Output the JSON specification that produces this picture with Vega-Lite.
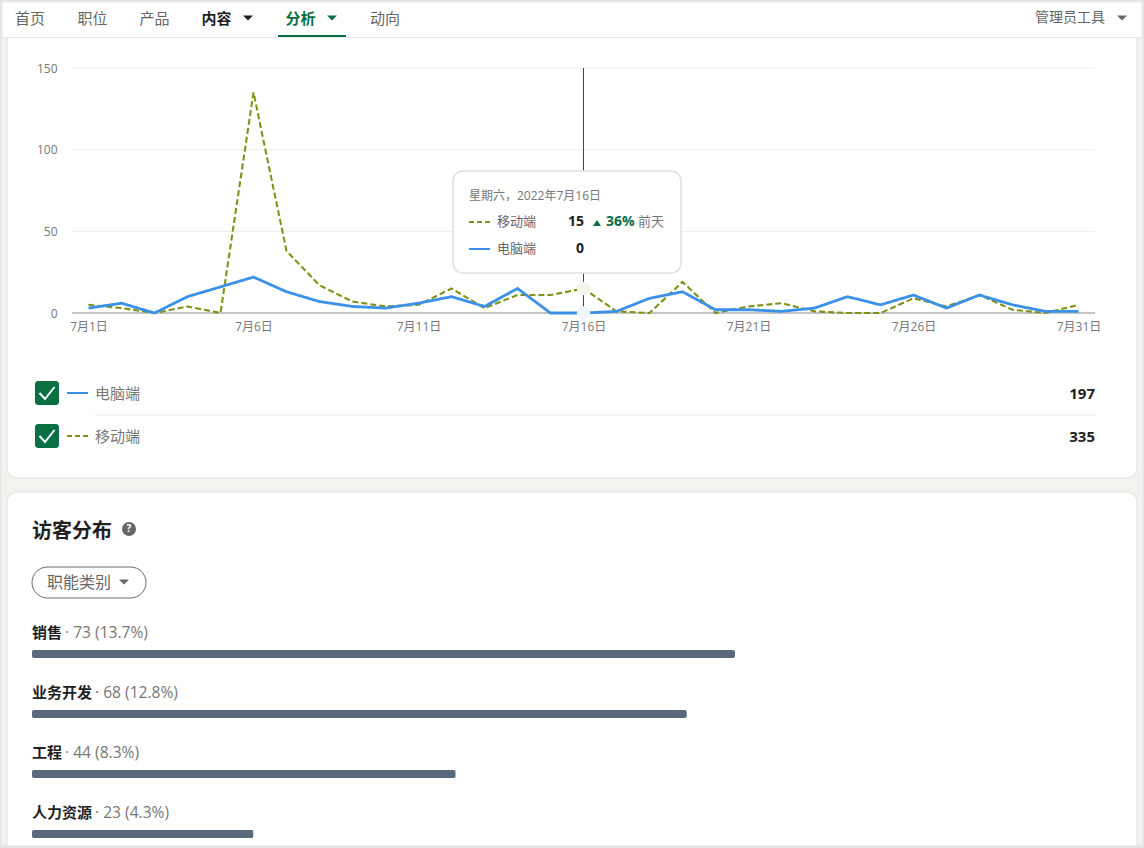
{
  "$schema": "https://vega.github.io/schema/vega-lite/v6.json",
  "width": 1144,
  "height": 848,
  "padding": 0,
  "autosize": {"type": "none"},
  "background": "#f3f2ef",
  "datasets": {
    "visits": [
      {"day":"7月1日","series":"移动端","visits":5},{"day":"7月2日","series":"移动端","visits":3},{"day":"7月3日","series":"移动端","visits":0},{"day":"7月4日","series":"移动端","visits":4},{"day":"7月5日","series":"移动端","visits":0},{"day":"7月6日","series":"移动端","visits":135},{"day":"7月7日","series":"移动端","visits":38},{"day":"7月8日","series":"移动端","visits":17},{"day":"7月9日","series":"移动端","visits":7},{"day":"7月10日","series":"移动端","visits":4},{"day":"7月11日","series":"移动端","visits":5},{"day":"7月12日","series":"移动端","visits":15},{"day":"7月13日","series":"移动端","visits":3},{"day":"7月14日","series":"移动端","visits":11},{"day":"7月15日","series":"移动端","visits":11},{"day":"7月16日","series":"移动端","visits":15},{"day":"7月17日","series":"移动端","visits":1},{"day":"7月18日","series":"移动端","visits":0},{"day":"7月19日","series":"移动端","visits":19},{"day":"7月20日","series":"移动端","visits":0},{"day":"7月21日","series":"移动端","visits":4},{"day":"7月22日","series":"移动端","visits":6},{"day":"7月23日","series":"移动端","visits":1},{"day":"7月24日","series":"移动端","visits":0},{"day":"7月25日","series":"移动端","visits":0},{"day":"7月26日","series":"移动端","visits":9},{"day":"7月27日","series":"移动端","visits":4},{"day":"7月28日","series":"移动端","visits":11},{"day":"7月29日","series":"移动端","visits":2},{"day":"7月30日","series":"移动端","visits":0},{"day":"7月31日","series":"移动端","visits":5},
      {"day":"7月1日","series":"电脑端","visits":3},{"day":"7月2日","series":"电脑端","visits":6},{"day":"7月3日","series":"电脑端","visits":0},{"day":"7月4日","series":"电脑端","visits":10},{"day":"7月5日","series":"电脑端","visits":16},{"day":"7月6日","series":"电脑端","visits":22},{"day":"7月7日","series":"电脑端","visits":13},{"day":"7月8日","series":"电脑端","visits":7},{"day":"7月9日","series":"电脑端","visits":4},{"day":"7月10日","series":"电脑端","visits":3},{"day":"7月11日","series":"电脑端","visits":6},{"day":"7月12日","series":"电脑端","visits":10},{"day":"7月13日","series":"电脑端","visits":4},{"day":"7月14日","series":"电脑端","visits":15},{"day":"7月15日","series":"电脑端","visits":0},{"day":"7月16日","series":"电脑端","visits":0},{"day":"7月17日","series":"电脑端","visits":1},{"day":"7月18日","series":"电脑端","visits":9},{"day":"7月19日","series":"电脑端","visits":13},{"day":"7月20日","series":"电脑端","visits":2},{"day":"7月21日","series":"电脑端","visits":2},{"day":"7月22日","series":"电脑端","visits":1},{"day":"7月23日","series":"电脑端","visits":3},{"day":"7月24日","series":"电脑端","visits":10},{"day":"7月25日","series":"电脑端","visits":5},{"day":"7月26日","series":"电脑端","visits":11},{"day":"7月27日","series":"电脑端","visits":3},{"day":"7月28日","series":"电脑端","visits":11},{"day":"7月29日","series":"电脑端","visits":5},{"day":"7月30日","series":"电脑端","visits":1},{"day":"7月31日","series":"电脑端","visits":1}
    ],
    "seriesKey": [
      {"series":"移动端","end":0},{"series":"移动端","end":1},
      {"series":"电脑端","end":0},{"series":"电脑端","end":1}
    ],
    "totals": [{"series":"电脑端","total":197,"box":"复选框"},{"series":"移动端","total":335,"box":"复选框"}],
    "tipRows": [{"series":"移动端","count":15},{"series":"电脑端","count":0}],
    "nav": [
      {"item":"首页","order":1,"state":"普通"},{"item":"职位","order":2,"state":"普通"},{"item":"产品","order":3,"state":"普通"},
      {"item":"内容","order":4,"state":"内容"},{"item":"分析","order":5,"state":"分析"},{"item":"动向","order":6,"state":"普通"}
    ],
    "jobs": [
      {"name":"销售","chars":2,"count":73,"detail":"· 73 (13.7%)"},
      {"name":"业务开发","chars":4,"count":68,"detail":"· 68 (12.8%)"},
      {"name":"工程","chars":2,"count":44,"detail":"· 44 (8.3%)"},
      {"name":"人力资源","chars":4,"count":23,"detail":"· 23 (4.3%)"}
    ]
  },
  "layer": [
    {
      "data": {"values": [{"name":"趋势"}]},
      "mark": {"type":"rect","fill":"#ffffff","stroke":"#e2e1dd","cornerRadius":10},
      "encoding": {
        "x": {"field":"name","type":"nominal","axis":null,"scale":{"type":"band","range":[7,1137],"paddingInner":0,"paddingOuter":0}},
        "y": {"field":"name","type":"nominal","axis":null,"scale":{"type":"band","range":[10,478],"paddingInner":0,"paddingOuter":0}}
      }
    },
    {
      "data": {"values": [{"name":"访客分布"}]},
      "mark": {"type":"rect","fill":"#ffffff","stroke":"#e2e1dd","cornerRadius":10},
      "encoding": {
        "x": {"field":"name","type":"nominal","axis":null,"scale":{"type":"band","range":[7,1137],"paddingInner":0,"paddingOuter":0}},
        "y": {"field":"name","type":"nominal","axis":null,"scale":{"type":"band","range":[492,880],"paddingInner":0,"paddingOuter":0}}
      }
    },
    {
      "data": {"values": [{"visits":50},{"visits":100},{"visits":150}]},
      "mark": {"type":"rule","color":"#ececec"},
      "encoding": {
        "x": {"datum":0,"axis":null,"scale":{"domain":[0,1],"range":[72,1095]}},
        "x2": {"datum":1},
        "y": {"field":"visits","type":"quantitative","axis":null,"scale":{"domain":[0,150],"range":[313,68]}}
      }
    },
    {
      "data": {"values": [{"visits":0}]},
      "mark": {"type":"rule","color":"#8a8a8a"},
      "encoding": {
        "x": {"datum":0,"axis":null,"scale":{"domain":[0,1],"range":[72,1095]}},
        "x2": {"datum":1},
        "y": {"field":"visits","type":"quantitative","axis":null,"scale":{"domain":[0,150],"range":[313,68]}}
      }
    },
    {
      "data": {"name": "visits"},
      "transform": [{"filter":"datum.day == '7月16日' && datum.series == '移动端'"}],
      "mark": {"type":"rule","color":"#444444","strokeWidth":1},
      "encoding": {
        "x": {"field":"day","type":"nominal","axis":null,"scale":{"type":"point","domain":["7月1日","7月2日","7月3日","7月4日","7月5日","7月6日","7月7日","7月8日","7月9日","7月10日","7月11日","7月12日","7月13日","7月14日","7月15日","7月16日","7月17日","7月18日","7月19日","7月20日","7月21日","7月22日","7月23日","7月24日","7月25日","7月26日","7月27日","7月28日","7月29日","7月30日","7月31日"],"range":[72,1095],"padding":0.5}},
        "y": {"datum":150,"axis":null,"scale":{"domain":[0,150],"range":[313,68]}},
        "y2": {"datum":0}
      }
    },
    {
      "data": {"name": "visits"},
      "mark": {"type":"line","interpolate":"linear"},
      "encoding": {
        "x": {
          "field":"day","type":"nominal","title":null,
          "scale":{"type":"point","domain":["7月1日","7月2日","7月3日","7月4日","7月5日","7月6日","7月7日","7月8日","7月9日","7月10日","7月11日","7月12日","7月13日","7月14日","7月15日","7月16日","7月17日","7月18日","7月19日","7月20日","7月21日","7月22日","7月23日","7月24日","7月25日","7月26日","7月27日","7月28日","7月29日","7月30日","7月31日"],"range":[72,1095],"padding":0.5},
          "axis":{"orient":"bottom","offset":-535,"zindex":1,"values":["7月1日","7月6日","7月11日","7月16日","7月21日","7月26日","7月31日"],"ticks":false,"domain":false,"grid":false,"labelAngle":0,"labelPadding":8,"labelFontSize":12,"labelColor":"#777777","labelOverlap":false}
        },
        "y": {
          "field":"visits","type":"quantitative","title":null,
          "scale":{"domain":[0,150],"range":[313,68]},
          "axis":{"orient":"left","offset":-72,"zindex":1,"values":[0,50,100,150],"ticks":false,"domain":false,"grid":false,"labelPadding":15,"labelFontSize":12,"labelColor":"#777777"}
        },
        "color": {"field":"series","type":"nominal","legend":null,"scale":{"domain":["移动端","电脑端"],"range":["#7f9216","#3b91e8"]}},
        "strokeDash": {"field":"series","type":"nominal","legend":null,"scale":{"domain":["移动端","电脑端"],"range":[[6,3],[1,0]]}},
        "strokeWidth": {"field":"series","type":"nominal","legend":null,"scale":{"domain":["移动端","电脑端"],"range":[2.1,2.8]}}
      }
    },
    {
      "data": {"name": "visits"},
      "transform": [{"filter":"datum.day == '7月16日'"}],
      "mark": {"type":"point","filled":true,"opacity":1,"size":180},
      "encoding": {
        "x": {"field":"day","type":"nominal","axis":null,"scale":{"type":"point","domain":["7月1日","7月2日","7月3日","7月4日","7月5日","7月6日","7月7日","7月8日","7月9日","7月10日","7月11日","7月12日","7月13日","7月14日","7月15日","7月16日","7月17日","7月18日","7月19日","7月20日","7月21日","7月22日","7月23日","7月24日","7月25日","7月26日","7月27日","7月28日","7月29日","7月30日","7月31日"],"range":[72,1095],"padding":0.5}},
        "y": {"field":"visits","type":"quantitative","axis":null,"scale":{"domain":[0,150],"range":[313,68]}},
        "color": {"field":"series","type":"nominal","legend":null,"scale":{"domain":["移动端","电脑端"],"range":["#f4f5e8","#eef5fd"]}}
      }
    },
    {
      "data": {"values": [{"name":"提示框"}]},
      "mark": {"type":"rect","fill":"#ffffff","stroke":"#e0e0e0","strokeWidth":1.5,"cornerRadius":10},
      "encoding": {
        "x": {"field":"name","type":"nominal","axis":null,"scale":{"type":"band","range":[453,681],"paddingInner":0,"paddingOuter":0}},
        "y": {"field":"name","type":"nominal","axis":null,"scale":{"type":"band","range":[171,273],"paddingInner":0,"paddingOuter":0}}
      }
    },
    {
      "data": {"values": [{"label":"星期六，2022年7月16日"}]},
      "mark": {"type":"text","fontSize":12,"color":"#777777"},
      "encoding": {
        "x": {"field":"label","type":"nominal","axis":null,"scale":{"type":"point","range":[469,469]}},
        "y": {"field":"label","type":"nominal","axis":null,"scale":{"type":"point","range":[196,196]}},
        "text": {"field":"label"}
      }
    },
    {
      "data": {"name":"seriesKey"},
      "mark": {"type":"line","strokeWidth":2},
      "encoding": {
        "x": {"field":"end","type":"quantitative","axis":null,"scale":{"domain":[0,1],"range":[469,490]}},
        "y": {"field":"series","type":"nominal","axis":null,"scale":{"type":"point","domain":["移动端","电脑端"],"range":[222,249]}},
        "color": {"field":"series","type":"nominal","legend":null,"scale":{"domain":["移动端","电脑端"],"range":["#7f9216","#3b91e8"]}},
        "strokeDash": {"field":"series","type":"nominal","legend":null,"scale":{"domain":["移动端","电脑端"],"range":[[5,3],[1,0]]}}
      }
    },
    {
      "data": {"name":"tipRows"},
      "mark": {"type":"text","fontSize":13,"color":"#666666"},
      "encoding": {
        "x": {"field":"series","type":"nominal","axis":null,"scale":{"type":"point","range":[497,497]}},
        "y": {"field":"series","type":"nominal","axis":null,"scale":{"type":"point","domain":["移动端","电脑端"],"range":[222,249]}},
        "text": {"field":"series"}
      }
    },
    {
      "data": {"name":"tipRows"},
      "mark": {"type":"text","fontSize":14,"fontWeight":"bold","align":"right","color":"#222222"},
      "encoding": {
        "x": {"field":"series","type":"nominal","axis":null,"scale":{"type":"point","range":[584,584]}},
        "y": {"field":"series","type":"nominal","axis":null,"scale":{"type":"point","domain":["移动端","电脑端"],"range":[222,249]}},
        "text": {"field":"count"}
      }
    },
    {
      "data": {"values": [{"change":"上升"}]},
      "mark": {"type":"point","shape":"M-1,0.75L1,0.75L0,-0.75Z","filled":true,"opacity":1,"size":64,"color":"#0a7044"},
      "encoding": {
        "x": {"field":"change","type":"nominal","axis":null,"scale":{"type":"point","range":[597,597]}},
        "y": {"field":"change","type":"nominal","axis":null,"scale":{"type":"point","range":[223,223]}}
      }
    },
    {
      "data": {"values": [{"change":"36%"}]},
      "mark": {"type":"text","fontSize":14,"fontWeight":"bold","color":"#0a7044"},
      "encoding": {
        "x": {"field":"change","type":"nominal","axis":null,"scale":{"type":"point","range":[606,606]}},
        "y": {"field":"change","type":"nominal","axis":null,"scale":{"type":"point","range":[222,222]}},
        "text": {"field":"change"}
      }
    },
    {
      "data": {"values": [{"change":"前天"}]},
      "mark": {"type":"text","fontSize":13,"color":"#777777"},
      "encoding": {
        "x": {"field":"change","type":"nominal","axis":null,"scale":{"type":"point","range":[638,638]}},
        "y": {"field":"change","type":"nominal","axis":null,"scale":{"type":"point","range":[222,222]}},
        "text": {"field":"change"}
      }
    },
    {
      "data": {"values": [{"name":"导航"}]},
      "mark": {"type":"rect","fill":"#ffffff","stroke":"#e8e8e8"},
      "encoding": {
        "x": {"field":"name","type":"nominal","axis":null,"scale":{"type":"band","range":[2,1142],"paddingInner":0,"paddingOuter":0}},
        "y": {"field":"name","type":"nominal","axis":null,"scale":{"type":"band","range":[2,37.5],"paddingInner":0,"paddingOuter":0}}
      }
    },
    {
      "data": {"values": [{"item":"分析"}]},
      "mark": {"type":"rect","fill":"#0a7044"},
      "encoding": {
        "x": {"field":"item","type":"nominal","axis":null,"scale":{"type":"band","range":[278,346],"paddingInner":0,"paddingOuter":0}},
        "y": {"field":"item","type":"nominal","axis":null,"scale":{"type":"band","range":[35,37],"paddingInner":0,"paddingOuter":0}}
      }
    },
    {
      "data": {"name":"nav"},
      "encoding": {
        "x": {"field":"order","type":"quantitative","axis":null,"scale":{"domain":[1,2,3,4,5,6],"range":[30,92.5,154.5,216.5,300.5,385]}},
        "y": {"field":"item","type":"nominal","axis":null,"scale":{"type":"point","range":[19,19]}},
        "color": {"field":"state","type":"nominal","legend":null,"scale":{"domain":["普通","内容","分析"],"range":["#666666","#1f1f1f","#0a7044"]}},
        "text": {"field":"item"}
      },
      "layer": [
        {"transform":[{"filter":"datum.state == '普通'"}],"mark":{"type":"text","align":"center","fontSize":15}},
        {"transform":[{"filter":"datum.state != '普通'"}],"mark":{"type":"text","align":"center","fontSize":15,"fontWeight":"bold"}}
      ]
    },
    {
      "data": {"values": [{"item":"内容","order":4},{"item":"分析","order":5},{"item":"管理员工具","order":7}]},
      "mark": {"type":"point","shape":"M-1,-0.5L1,-0.5L0,0.5Z","filled":true,"opacity":1,"size":100},
      "encoding": {
        "x": {"field":"order","type":"quantitative","axis":null,"scale":{"domain":[4,5,7],"range":[248,332,1122]}},
        "y": {"field":"item","type":"nominal","axis":null,"scale":{"type":"point","domain":["内容","分析","管理员工具"],"range":[18,18]}},
        "color": {"field":"item","type":"nominal","legend":null,"scale":{"domain":["内容","分析","管理员工具"],"range":["#1f1f1f","#0a7044","#666666"]}}
      }
    },
    {
      "data": {"values": [{"item":"管理员工具"}]},
      "mark": {"type":"text","fontSize":14,"color":"#666666"},
      "encoding": {
        "x": {"field":"item","type":"nominal","axis":null,"scale":{"type":"point","range":[1035,1035]}},
        "y": {"field":"item","type":"nominal","axis":null,"scale":{"type":"point","range":[18,18]}},
        "text": {"field":"item"}
      }
    },
    {
      "data": {"name":"totals"},
      "mark": {"type":"rect","fill":"#0a7044","cornerRadius":3},
      "encoding": {
        "x": {"field":"box","type":"nominal","axis":null,"scale":{"type":"band","range":[35,59],"paddingInner":0,"paddingOuter":0}},
        "y": {"field":"series","type":"nominal","axis":null,"scale":{"type":"band","domain":["电脑端","移动端"],"range":[381,448],"paddingInner":0.4419,"paddingOuter":0}}
      }
    },
    {
      "data": {"name":"totals"},
      "mark": {"type":"point","shape":"M-0.75,0L-0.2,0.6L0.75,-0.6","filled":false,"opacity":1,"size":400,"stroke":"#ffffff","strokeWidth":2},
      "encoding": {
        "x": {"field":"series","type":"nominal","axis":null,"scale":{"type":"point","range":[47,47]}},
        "y": {"field":"series","type":"nominal","axis":null,"scale":{"type":"point","domain":["电脑端","移动端"],"range":[393,436]}}
      }
    },
    {
      "data": {"name":"seriesKey"},
      "mark": {"type":"line","strokeWidth":2},
      "encoding": {
        "x": {"field":"end","type":"quantitative","axis":null,"scale":{"domain":[0,1],"range":[67,88]}},
        "y": {"field":"series","type":"nominal","axis":null,"scale":{"type":"point","domain":["电脑端","移动端"],"range":[393,436]}},
        "color": {"field":"series","type":"nominal","legend":null,"scale":{"domain":["移动端","电脑端"],"range":["#7f9216","#3b91e8"]}},
        "strokeDash": {"field":"series","type":"nominal","legend":null,"scale":{"domain":["移动端","电脑端"],"range":[[5,3],[1,0]]}}
      }
    },
    {
      "data": {"name":"totals"},
      "mark": {"type":"text","fontSize":15,"color":"#777777"},
      "encoding": {
        "x": {"field":"series","type":"nominal","axis":null,"scale":{"type":"point","range":[95,95]}},
        "y": {"field":"series","type":"nominal","axis":null,"scale":{"type":"point","domain":["电脑端","移动端"],"range":[394,437]}},
        "text": {"field":"series"}
      }
    },
    {
      "data": {"name":"totals"},
      "mark": {"type":"text","fontSize":15,"fontWeight":"bold","align":"right","color":"#222222"},
      "encoding": {
        "x": {"field":"series","type":"nominal","axis":null,"scale":{"type":"point","range":[1095,1095]}},
        "y": {"field":"series","type":"nominal","axis":null,"scale":{"type":"point","domain":["电脑端","移动端"],"range":[394,437]}},
        "text": {"field":"total"}
      }
    },
    {
      "data": {"values": [{"from":0,"to":1,"level":0}]},
      "mark": {"type":"rule","color":"#e8e8e8"},
      "encoding": {
        "x": {"field":"from","type":"quantitative","axis":null,"scale":{"domain":[0,1],"range":[95,1095]}},
        "x2": {"field":"to"},
        "y": {"field":"level","type":"quantitative","axis":null,"scale":{"domain":[0,1],"range":[415,416]}}
      }
    },
    {
      "data": {"values": [{"title":"访客分布"}]},
      "mark": {"type":"text","fontSize":20,"fontWeight":"bold","color":"#1f1f1f"},
      "encoding": {
        "x": {"field":"title","type":"nominal","axis":null,"scale":{"type":"point","range":[32,32]}},
        "y": {"field":"title","type":"nominal","axis":null,"scale":{"type":"point","range":[532,532]}},
        "text": {"field":"title"}
      }
    },
    {
      "data": {"values": [{"help":"?"}]},
      "encoding": {
        "x": {"field":"help","type":"nominal","axis":null,"scale":{"type":"point","range":[129,129]}},
        "y": {"field":"help","type":"nominal","axis":null,"scale":{"type":"point","range":[529,529]}}
      },
      "layer": [
        {"mark":{"type":"point","filled":true,"opacity":1,"size":196,"color":"#666666"}},
        {"mark":{"type":"text","align":"center","fontSize":10,"fontWeight":"bold","color":"#ffffff"},"encoding":{"text":{"field":"help"}}}
      ]
    },
    {
      "data": {"values": [{"name":"职能类别"}]},
      "mark": {"type":"rect","fill":"#ffffff","stroke":"#666666","cornerRadius":15.5},
      "encoding": {
        "x": {"field":"name","type":"nominal","axis":null,"scale":{"type":"band","range":[32,146],"paddingInner":0,"paddingOuter":0}},
        "y": {"field":"name","type":"nominal","axis":null,"scale":{"type":"band","range":[567,598],"paddingInner":0,"paddingOuter":0}}
      }
    },
    {
      "data": {"values": [{"name":"职能类别"}]},
      "mark": {"type":"text","fontSize":16,"color":"#666666"},
      "encoding": {
        "x": {"field":"name","type":"nominal","axis":null,"scale":{"type":"point","range":[47,47]}},
        "y": {"field":"name","type":"nominal","axis":null,"scale":{"type":"point","range":[583,583]}},
        "text": {"field":"name"}
      }
    },
    {
      "data": {"values": [{"name":"职能类别"}]},
      "mark": {"type":"point","shape":"M-1,-0.5L1,-0.5L0,0.5Z","filled":true,"opacity":1,"size":100,"color":"#666666"},
      "encoding": {
        "x": {"field":"name","type":"nominal","axis":null,"scale":{"type":"point","range":[124,124]}},
        "y": {"field":"name","type":"nominal","axis":null,"scale":{"type":"point","range":[582,582]}}
      }
    },
    {
      "data": {"name":"jobs"},
      "mark": {"type":"bar","color":"#58697b","cornerRadius":2},
      "encoding": {
        "x": {"field":"count","type":"quantitative","axis":null,"scale":{"domain":[0,73],"range":[32,735]}},
        "y": {"field":"name","type":"nominal","axis":null,"sort":null,"scale":{"type":"band","range":[650,838],"paddingInner":0.8667,"paddingOuter":0}}
      }
    },
    {
      "data": {"name":"jobs"},
      "mark": {"type":"text","fontSize":15,"fontWeight":"bold","color":"#1f1f1f"},
      "encoding": {
        "x": {"field":"name","type":"nominal","axis":null,"sort":null,"scale":{"type":"point","range":[32,32]}},
        "y": {"field":"name","type":"nominal","axis":null,"sort":null,"scale":{"type":"point","range":[633,813]}},
        "text": {"field":"name"}
      }
    },
    {
      "data": {"name":"jobs"},
      "mark": {"type":"text","fontSize":15.6,"color":"#777777"},
      "encoding": {
        "x": {"field":"chars","type":"quantitative","axis":null,"scale":{"domain":[2,4],"range":[65,95],"zero":false}},
        "y": {"field":"name","type":"nominal","axis":null,"sort":null,"scale":{"type":"point","range":[633,813]}},
        "text": {"field":"detail"}
      }
    },
    {
      "data": {"values": [{"name":"边框"}]},
      "mark": {"type":"rect","fill":null,"stroke":"#e4e4e4","strokeWidth":3},
      "encoding": {
        "x": {"field":"name","type":"nominal","axis":null,"scale":{"type":"band","range":[0,1144],"paddingInner":0,"paddingOuter":0}},
        "y": {"field":"name","type":"nominal","axis":null,"scale":{"type":"band","range":[0,847],"paddingInner":0,"paddingOuter":0}}
      }
    }
  ],
  "resolve": {
    "scale": {"x":"independent","y":"independent","color":"independent","strokeDash":"independent","strokeWidth":"independent"},
    "axis": {"x":"independent","y":"independent"}
  },
  "config": {
    "font": "Open Sans, Noto Sans CJK SC",
    "view": {"stroke": null},
    "scale": {"pointPadding": 0},
    "text": {"align": "left", "baseline": "middle"}
  }
}
